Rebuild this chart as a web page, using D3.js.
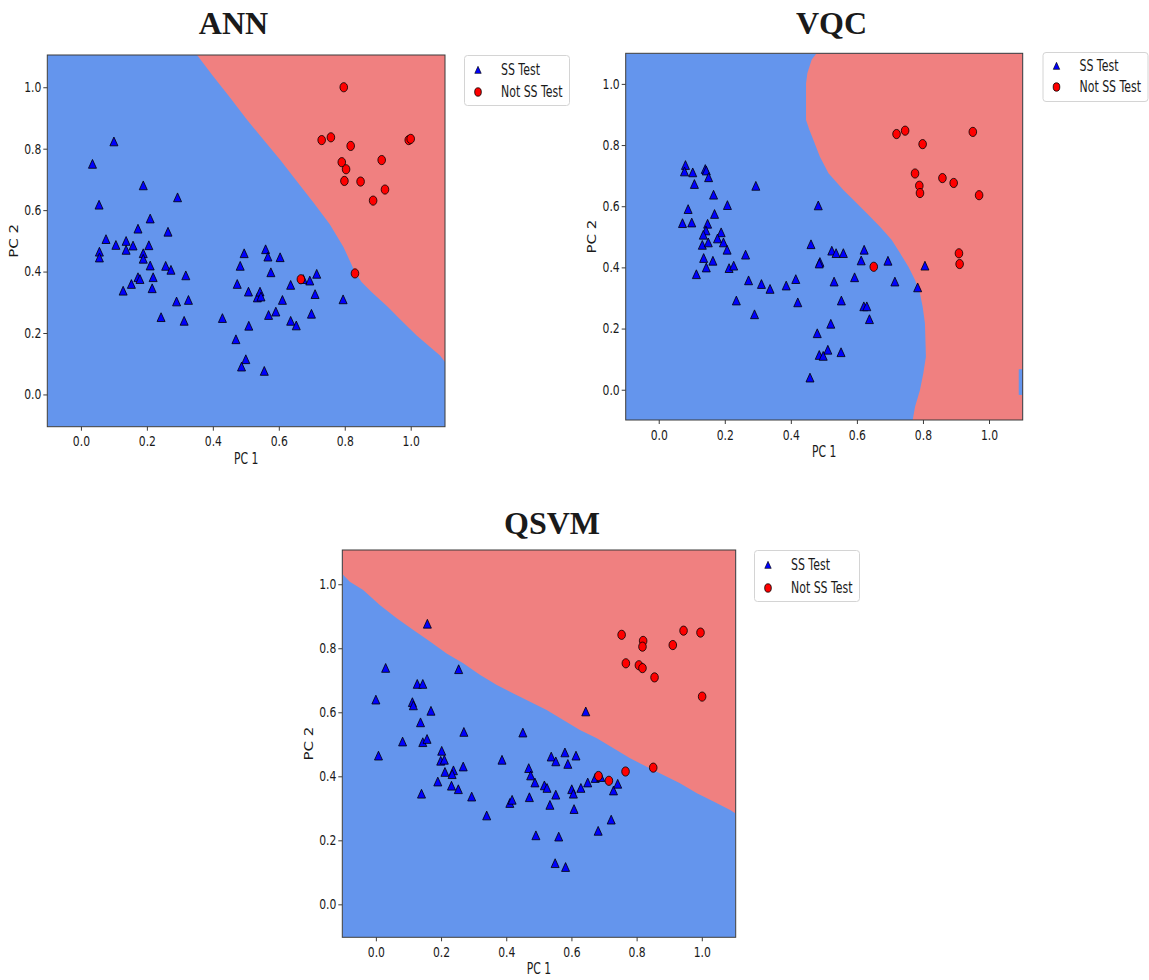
<!DOCTYPE html>
<html>
<head>
<meta charset="utf-8">
<script src="https://cdn.jsdelivr.net/npm/d3@7"></script>
<style>
  body { margin: 0; background: #fff; }
  text { font-family: "DejaVu Sans", sans-serif; fill: #1a1a1a; }
</style>
</head>
<body>
<svg id="chart" width="1149" height="980"></svg>
<script>
// ---- shared labels ----
const tickValues = [0.0, 0.2, 0.4, 0.6, 0.8, 1.0];
const legendLabels = ["SS Test", "Not SS Test"];
const xLabel = "PC 1";
const yLabel = "PC 2";

// ---- ANN: test points (PC 1, PC 2) and decision boundary ----
const annTitle = "ANN";
const annSS = [
  [0.035,0.750],[0.100,0.823],[0.055,0.617],[0.056,0.464],[0.056,0.445],[0.076,0.505],
  [0.106,0.486],[0.137,0.499],[0.137,0.470],[0.158,0.484],[0.173,0.539],[0.189,0.680],
  [0.189,0.459],[0.189,0.441],[0.206,0.485],[0.210,0.572],[0.210,0.419],[0.219,0.381],
  [0.216,0.345],[0.128,0.337],[0.153,0.359],[0.173,0.381],[0.179,0.375],[0.243,0.251],
  [0.257,0.418],[0.273,0.405],[0.264,0.529],[0.293,0.641],[0.290,0.302],[0.318,0.387],
  [0.326,0.307],[0.313,0.239],[0.429,0.248],[0.470,0.179],[0.474,0.359],[0.483,0.418],
  [0.495,0.459],[0.508,0.334],[0.509,0.223],[0.500,0.114],[0.487,0.090],[0.535,0.315],
  [0.543,0.334],[0.546,0.318],[0.556,0.076],[0.560,0.472],[0.567,0.448],[0.576,0.397],
  [0.569,0.258],[0.591,0.269],[0.604,0.446],[0.611,0.307],[0.636,0.356],[0.636,0.239],
  [0.653,0.224],[0.674,0.375],[0.694,0.370],[0.715,0.392],[0.710,0.326],[0.699,0.262],
  [0.795,0.309]
];
const annNotSS = [
  [0.797,1.000],[0.730,0.828],[0.758,0.837],[0.818,0.809],[0.791,0.756],[0.804,0.733],
  [0.799,0.695],[0.848,0.693],[0.912,0.763],[0.922,0.667],[0.886,0.631],[0.994,0.828],
  [1.000,0.832],[0.667,0.375],[0.831,0.394]
];
const annBoundary = [
  [0.352,1.105],[0.401,1.036],[0.452,0.967],[0.503,0.895],[0.553,0.830],[0.604,0.764],
  [0.654,0.695],[0.705,0.625],[0.755,0.553],[0.796,0.480],[0.816,0.434],[0.830,0.400],
  [0.851,0.366],[0.882,0.333],[0.931,0.285],[0.967,0.246],[1.018,0.192],[1.089,0.127],
  [1.104,0.106]
];

// ---- VQC ----
const vqcTitle = "VQC";
const vqcSS = [
  [0.081,0.734],[0.078,0.713],[0.103,0.710],[0.108,0.672],[0.141,0.721],[0.144,0.716],
  [0.151,0.694],[0.166,0.637],[0.208,0.603],[0.294,0.666],[0.089,0.590],[0.072,0.544],
  [0.100,0.546],[0.169,0.574],[0.148,0.542],[0.143,0.520],[0.135,0.506],[0.189,0.514],
  [0.178,0.494],[0.196,0.481],[0.132,0.473],[0.150,0.481],[0.207,0.457],[0.136,0.430],
  [0.164,0.421],[0.144,0.399],[0.114,0.377],[0.213,0.397],[0.227,0.405],[0.263,0.441],
  [0.272,0.357],[0.311,0.345],[0.337,0.329],[0.235,0.291],[0.290,0.246],[0.386,0.340],
  [0.415,0.361],[0.421,0.285],[0.483,0.602],[0.461,0.475],[0.488,0.417],[0.486,0.412],
  [0.524,0.454],[0.537,0.446],[0.559,0.446],[0.531,0.353],[0.553,0.291],[0.593,0.367],
  [0.613,0.422],[0.622,0.457],[0.621,0.272],[0.630,0.272],[0.638,0.230],[0.694,0.421],
  [0.715,0.353],[0.784,0.334],[0.806,0.405],[0.480,0.184],[0.521,0.215],[0.512,0.130],
  [0.486,0.113],[0.498,0.110],[0.552,0.122],[0.458,0.039]
];
const vqcNotSS = [
  [0.720,0.836],[0.746,0.847],[0.799,0.803],[0.951,0.843],[0.776,0.707],[0.789,0.667],
  [0.791,0.643],[0.859,0.692],[0.893,0.676],[0.970,0.636],[0.909,0.446],[0.911,0.411],
  [0.651,0.402]
];
const vqcBoundary = [
  [0.478,1.100],[0.463,1.079],[0.450,1.035],[0.446,1.002],[0.446,0.882],[0.456,0.850],
  [0.468,0.817],[0.488,0.762],[0.514,0.708],[0.559,0.653],[0.589,0.621],[0.630,0.577],
  [0.670,0.533],[0.705,0.490],[0.731,0.446],[0.756,0.402],[0.776,0.359],[0.791,0.315],
  [0.799,0.272],[0.806,0.217],[0.809,0.108],[0.801,0.053],[0.791,-0.001],[0.776,-0.056],
  [0.769,-0.099]
];
// small SS-class pocket at the right edge: [x0, x1, y0, y1]
const vqcPocket = [1.090, 1.102, -0.017, 0.067];

// ---- QSVM ----
const qsvmTitle = "QSVM";
const qsvmSS = [
  [0.000,0.639],[0.030,0.738],[0.008,0.464],[0.158,0.876],[0.127,0.688],[0.144,0.688],
  [0.112,0.631],[0.115,0.621],[0.169,0.604],[0.137,0.568],[0.082,0.508],[0.144,0.506],
  [0.157,0.516],[0.202,0.479],[0.199,0.448],[0.210,0.451],[0.212,0.413],[0.238,0.418],
  [0.234,0.406],[0.232,0.370],[0.190,0.383],[0.253,0.359],[0.140,0.345],[0.268,0.430],
  [0.270,0.538],[0.254,0.734],[0.294,0.336],[0.340,0.277],[0.387,0.451],[0.451,0.536],
  [0.469,0.425],[0.475,0.402],[0.488,0.380],[0.471,0.334],[0.411,0.316],[0.418,0.326],
  [0.491,0.215],[0.517,0.371],[0.525,0.363],[0.538,0.461],[0.552,0.446],[0.580,0.474],
  [0.589,0.438],[0.614,0.464],[0.534,0.310],[0.552,0.342],[0.601,0.359],[0.606,0.345],
  [0.608,0.297],[0.629,0.363],[0.650,0.380],[0.673,0.394],[0.690,0.397],[0.644,0.602],
  [0.561,0.211],[0.550,0.128],[0.582,0.116],[0.682,0.229],[0.722,0.264],[0.729,0.355],
  [0.742,0.376]
];
const qsvmNotSS = [
  [0.754,0.842],[0.767,0.753],[0.820,0.823],[0.818,0.805],[0.807,0.747],[0.818,0.738],
  [0.855,0.709],[0.911,0.810],[0.944,0.855],[0.996,0.849],[1.001,0.649],[0.683,0.401],
  [0.715,0.386],[0.766,0.415],[0.851,0.427]
];
const qsvmBoundary = [
  [-0.103,1.032],[-0.080,1.008],[-0.039,0.982],[0.012,0.935],[0.064,0.894],[0.115,0.857],
  [0.166,0.821],[0.217,0.784],[0.268,0.753],[0.319,0.717],[0.371,0.685],[0.422,0.659],
  [0.473,0.633],[0.524,0.607],[0.575,0.576],[0.626,0.545],[0.678,0.519],[0.729,0.488],
  [0.780,0.456],[0.831,0.430],[0.882,0.404],[0.933,0.378],[0.985,0.347],[1.036,0.321],
  [1.087,0.295],[1.104,0.284]
];

// ---- colours ----
const COL_SS_REGION = "#6495ed";
const COL_NOT_REGION = "#f08080";
const COL_SS = "#0000ff";
const COL_NOT = "#ff0000";

const svg = d3.select("#chart");

// Squeeze text horizontally around its anchor point
function narrow(sel, k) {
  sel.each(function () {
    const t = d3.select(this);
    const tx = +t.attr("x") || 0, ty = +t.attr("y") || 0;
    t.attr("x", 0).attr("y", 0)
      .attr("transform", `translate(${tx},${ty}) scale(${k},1)`);
  });
}

const triPath = "M0,-4.6L4,4.2L-4,4.2Z";

function drawPanel(p) {
  const [x0, y0, x1, y1] = p.rect;
  const x = d3.scaleLinear().domain(p.xd).range([x0, x1]);
  const y = d3.scaleLinear().domain(p.yd).range([y1, y0]);
  const g = svg.append("g");
  const clipId = "clip-" + p.id;
  g.append("clipPath").attr("id", clipId)
    .append("rect").attr("x", x0).attr("y", y0).attr("width", x1 - x0).attr("height", y1 - y0);

  const plot = g.append("g").attr("clip-path", `url(#${clipId})`);
  // SS-class region fills the whole plane, Not-SS region drawn over it
  plot.append("rect").attr("x", x0).attr("y", y0).attr("width", x1 - x0).attr("height", y1 - y0)
    .attr("fill", COL_SS_REGION);
  const poly = p.boundary.concat(p.corners);
  plot.append("path")
    .attr("d", d3.line().x(d => x(d[0])).y(d => y(d[1]))(poly) + "Z")
    .attr("fill", COL_NOT_REGION);
  if (p.pocket) {
    const [a, b, c, d] = p.pocket;
    plot.append("rect").attr("x", x(a)).attr("y", y(d))
      .attr("width", x(b) - x(a)).attr("height", y(c) - y(d)).attr("fill", COL_SS_REGION);
  }

  // test points
  plot.selectAll("path.ss").data(p.ss).join("path").attr("class", "ss")
    .attr("d", triPath)
    .attr("transform", d => `translate(${x(d[0])},${y(d[1])})`)
    .attr("fill", COL_SS).attr("stroke", "#000").attr("stroke-width", 0.8);
  plot.selectAll("ellipse.not").data(p.not).join("ellipse").attr("class", "not")
    .attr("cx", d => x(d[0])).attr("cy", d => y(d[1]))
    .attr("rx", 3.8).attr("ry", 4.6)
    .attr("fill", COL_NOT).attr("stroke", "#000").attr("stroke-width", 0.8);

  // frame
  g.append("rect").attr("x", x0).attr("y", y0).attr("width", x1 - x0).attr("height", y1 - y0)
    .attr("fill", "none").attr("stroke", "#3a3a3a").attr("stroke-width", 1);

  // axes
  const fmt = d3.format(".1f");
  const ax = g.append("g").attr("transform", `translate(0,${y1})`)
    .call(d3.axisBottom(x).tickValues(tickValues).tickFormat(fmt).tickSize(4).tickPadding(6));
  const ay = g.append("g").attr("transform", `translate(${x0},0)`)
    .call(d3.axisLeft(y).tickValues(tickValues).tickFormat(fmt).tickSize(4).tickPadding(2));
  [ax, ay].forEach(a => {
    a.select(".domain").remove();
    a.selectAll(".tick line").attr("stroke", "#3a3a3a");
    a.selectAll(".tick text").attr("font-size", 13.5).attr("fill", "#1a1a1a")
      .attr("font-family", "DejaVu Sans");
    narrow(a.selectAll(".tick text"), 0.8);
  });

  // axis titles
  const xl = g.append("text").attr("x", (x0 + x1) / 2).attr("y", y1 + 37)
    .attr("text-anchor", "middle").attr("font-size", 15).text(xLabel);
  narrow(xl, 0.72);
  g.append("text")
    .attr("transform", `translate(${x0 - 34},${(y0 + y1) / 2}) scale(0.85,1) rotate(-90)`)
    .attr("dy", "0.35em").attr("text-anchor", "middle").attr("font-size", 15).text(yLabel);

  // panel title
  g.append("text").attr("x", p.title[0]).attr("y", p.title[1])
    .attr("text-anchor", "middle")
    .style("font-family", '"Liberation Serif", "Times New Roman", serif')
    .style("font-weight", "bold").attr("font-size", 32).attr("fill", "#000")
    .text(p.name);

  // legend
  const [lx, ly, lw, lh] = p.legend;
  const lg = g.append("g");
  lg.append("rect").attr("x", lx + 0.5).attr("y", ly + 0.5).attr("width", lw).attr("height", lh)
    .attr("rx", 3).attr("fill", "#fff").attr("stroke", "#d4d4d4");
  const rows = [ly + p.rowOff[0], ly + p.rowOff[1]];
  lg.append("path").attr("d", triPath)
    .attr("transform", `translate(${lx + 14},${rows[0]}) scale(0.8)`)
    .attr("fill", COL_SS).attr("stroke", "#000").attr("stroke-width", 0.8);
  lg.append("ellipse").attr("cx", lx + 14).attr("cy", rows[1]).attr("rx", 3.3).attr("ry", 4.2)
    .attr("fill", COL_NOT).attr("stroke", "#000").attr("stroke-width", 0.8);
  legendLabels.forEach((t, i) => {
    const tx = lg.append("text").attr("x", lx + 37).attr("y", rows[i]).attr("dy", "0.36em")
      .attr("font-size", 15).text(t);
    narrow(tx, 0.73);
  });
}

drawPanel({
  id: "ann", name: annTitle, rect: [47.3, 55, 445, 426.7],
  xd: [-0.102, 1.104], yd: [-0.105, 1.105],
  ss: annSS, not: annNotSS, boundary: annBoundary,
  corners: [[1.104, 1.105]],
  title: [233.5, 34], legend: [464, 55, 105, 50], rowOff: [15, 37]
});
drawPanel({
  id: "vqc", name: vqcTitle, rect: [625.7, 53.3, 1022.7, 420],
  xd: [-0.1, 1.102], yd: [-0.099, 1.100],
  ss: vqcSS, not: vqcNotSS, boundary: vqcBoundary,
  corners: [[1.102, -0.099], [1.102, 1.100]], pocket: vqcPocket,
  title: [831.5, 34], legend: [1042.5, 52, 105, 49], rowOff: [14, 35]
});
drawPanel({
  id: "qsvm", name: qsvmTitle, rect: [342.3, 550, 735.7, 937.3],
  xd: [-0.103, 1.104], yd: [-0.103, 1.107],
  ss: qsvmSS, not: qsvmNotSS, boundary: qsvmBoundary,
  corners: [[1.104, 1.107], [-0.103, 1.107]],
  title: [552, 534], legend: [754, 550, 105, 51], rowOff: [15, 38]
});
</script>
</body>
</html>
